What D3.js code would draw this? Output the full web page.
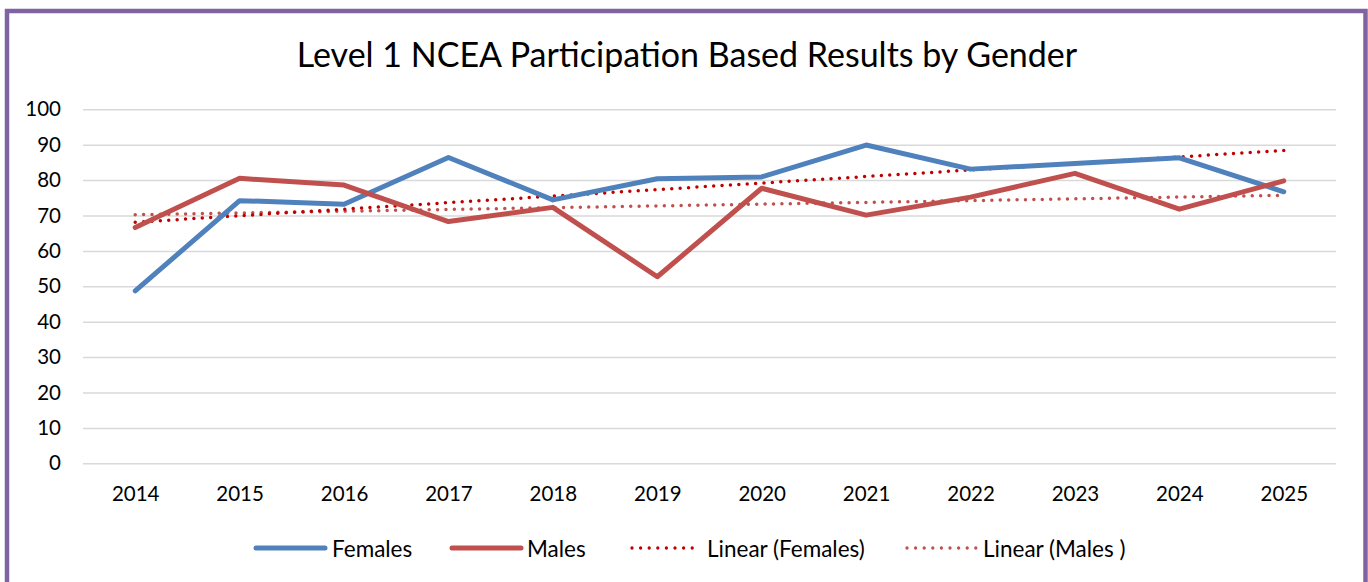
<!DOCTYPE html>
<html>
<head>
<meta charset="utf-8">
<script src="https://cdn.jsdelivr.net/npm/d3@7"></script>
<style>
  html, body { margin: 0; padding: 0; background: #fff; }
  svg { display: block; font-family: Lato, "Open Sans", sans-serif; }
</style>
</head>
<body>
<svg id="chart" width="1368" height="582"></svg>
<script>
// Results by year
const years = ["2014","2015","2016","2017","2018","2019","2020","2021","2022","2023","2024","2025"];
const females = [48.7, 74.2, 73.2, 86.4, 74.4, 80.4, 80.9, 89.9, 83.1, 84.7, 86.3, 76.7];
const males   = [66.6, 80.5, 78.6, 68.3, 72.3, 52.7, 77.7, 70.1, 75.2, 81.9, 71.8, 79.8];
const yTicks  = [0, 10, 20, 30, 40, 50, 60, 70, 80, 90, 100];

const title = "Level 1 NCEA Participation Based Results by Gender";

// Least-squares line over the category index
function linearFit(vals) {
  const xs = vals.map((_, i) => i + 1);
  const mx = d3.mean(xs), my = d3.mean(vals);
  let sxy = 0, sxx = 0;
  xs.forEach((x, i) => { sxy += (x - mx) * (vals[i] - my); sxx += (x - mx) * (x - mx); });
  const b = sxy / sxx, a = my - b * mx;
  return xs.map(x => a + b * x);
}

const series = [
  { name: "Females", values: females, color: "#4F81BD", width: 5, dash: null },
  { name: "Males", values: males, color: "#C0504D", width: 5, dash: null },
  { name: "Linear (Females)", values: linearFit(females), color: "#C00000", width: 3.5, dash: "0 8.4" },
  { name: "Linear (Males )", values: linearFit(males), color: "#C0504D", width: 3.5, dash: "0 8.4" }
];

const svg = d3.select("#chart");
const plot = { left: 83, right: 1336, top: 109.3, bottom: 463.3 };

// Outer frame
svg.append("rect")
  .attr("x", 7).attr("y", 11)
  .attr("width", 1358.5).attr("height", 620)
  .attr("fill", "#fff")
  .attr("stroke", "#8064A2").attr("stroke-width", 4.5);

// Title
svg.append("text")
  .attr("x", 687).attr("y", 67)
  .attr("text-anchor", "middle")
  .attr("font-size", 34)
  .attr("fill", "#000")
  .text(title);

const x = d3.scalePoint().domain(years).range([plot.left, plot.right]).padding(0.5);
const y = d3.scaleLinear().domain([0, 100]).range([plot.bottom, plot.top]);

// Horizontal gridlines + y labels
const yAxis = d3.axisLeft(y).tickValues(yTicks).tickSize(-(plot.right - plot.left)).tickPadding(22);
const gy = svg.append("g").attr("transform", `translate(${plot.left},0)`).call(yAxis);
gy.select(".domain").remove();
gy.selectAll(".tick line").attr("stroke", "#D9D9D9").attr("stroke-width", 1.5);
gy.selectAll(".tick text").attr("font-size", 20.5).attr("fill", "#000")
  .attr("font-family", "Lato, 'Open Sans', sans-serif");

// Category labels
const xAxis = d3.axisBottom(x).tickSize(0).tickPadding(23);
const gx = svg.append("g").attr("transform", `translate(0,${plot.bottom})`).call(xAxis);
gx.select(".domain").remove();
gx.selectAll(".tick text").attr("font-size", 20.5).attr("fill", "#000")
  .attr("font-family", "Lato, 'Open Sans', sans-serif");

// Lines: trendlines drawn under the data series
const line = d3.line().x((d, i) => x(years[i])).y(d => y(d));
const order = [series[3], series[2], series[0], series[1]];
order.forEach(s => {
  const p = svg.append("path")
    .attr("d", line(s.values))
    .attr("fill", "none")
    .attr("stroke", s.color)
    .attr("stroke-width", s.width)
    .attr("stroke-linejoin", "round")
    .attr("stroke-linecap", "round");
  if (s.dash) p.attr("stroke-dasharray", s.dash);
});

// Legend
const legendY = 548;
const legendItems = [
  { s: series[0], x0: 256, len: 69, tx: 332 },
  { s: series[1], x0: 452, len: 69, tx: 527 },
  { s: series[2], x0: 632, len: 68, tx: 707 },
  { s: series[3], x0: 907, len: 69, tx: 983 }
];
legendItems.forEach(({ s, x0, len, tx }) => {
  const g = svg.append("g");
  const p = g.append("line")
    .attr("x1", x0).attr("x2", x0 + len)
    .attr("y1", legendY).attr("y2", legendY)
    .attr("stroke", s.color)
    .attr("stroke-width", s.dash ? 3.3 : 5)
    .attr("stroke-linecap", "round");
  if (s.dash) p.attr("stroke-dasharray", "0 8.6");
  g.append("text")
    .attr("x", tx).attr("y", legendY + 8.5)
    .attr("font-size", 22.5).attr("fill", "#000")
    .text(s.name);
});
</script>
</body>
</html>
